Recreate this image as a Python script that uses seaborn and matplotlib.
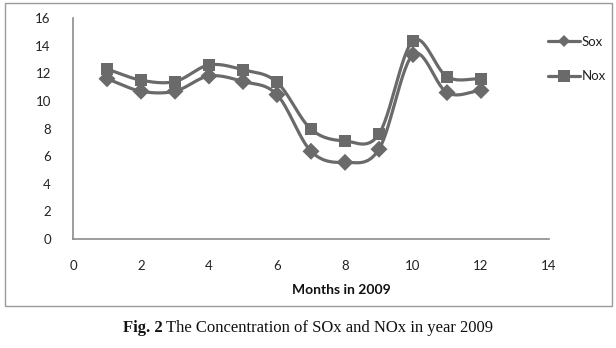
import numpy as np
import pandas as pd
import matplotlib
matplotlib.use("Agg")
import matplotlib.pyplot as plt
from matplotlib.lines import Line2D
from matplotlib.patches import Rectangle
import seaborn as sns

months = [1, 2, 3, 4, 5, 6, 7, 8, 9, 10, 11, 12]
sox = [11.6, 10.7, 10.7, 11.8, 11.4, 10.45, 6.35, 5.55, 6.5, 13.35, 10.6, 10.75]
nox = [12.3, 11.5, 11.4, 12.6, 12.25, 11.35, 7.95, 7.1, 7.6, 14.35, 11.75, 11.6]
series_names = ["Sox", "Nox"]
x_ticks = [0, 2, 4, 6, 8, 10, 12, 14]
y_ticks = [0, 2, 4, 6, 8, 10, 12, 14, 16]

sns.set_theme(style="white")
plt.rcParams["font.family"] = ["Lato", "DejaVu Sans"]

LINE = "#6a6a6a"

df = pd.DataFrame({
    "month": months * 2,
    "value": sox + nox,
    "series": [series_names[0]] * len(months) + [series_names[1]] * len(months),
})


def smooth(x, y, n=30):
    """Catmull-Rom style cubic Hermite curve through the points."""
    x = np.asarray(x, float)
    y = np.asarray(y, float)
    mx = np.gradient(x)
    my = np.gradient(y)
    mx[1:-1] = (x[2:] - x[:-2]) / 2
    my[1:-1] = (y[2:] - y[:-2]) / 2
    xs, ys = [], []
    t = np.linspace(0, 1, n)
    h00 = 2 * t**3 - 3 * t**2 + 1
    h10 = t**3 - 2 * t**2 + t
    h01 = -2 * t**3 + 3 * t**2
    h11 = t**3 - t**2
    for i in range(len(x) - 1):
        xs.append(h00 * x[i] + h10 * mx[i] + h01 * x[i + 1] + h11 * mx[i + 1])
        ys.append(h00 * y[i] + h10 * my[i] + h01 * y[i + 1] + h11 * my[i + 1])
    return np.concatenate(xs), np.concatenate(ys)


fig = plt.figure(figsize=(6.16, 3.48), dpi=100)
ax = fig.add_axes([73 / 616, 1 - 239 / 348, 476 / 616, 221 / 348])

curves = []
for name in series_names:
    sub = df[df["series"] == name]
    cx, cy = smooth(sub["month"].values, sub["value"].values)
    curves.append(pd.DataFrame({"month": cx, "value": cy, "series": name}))
curve_df = pd.concat(curves, ignore_index=True)

sns.lineplot(data=curve_df, x="month", y="value", units="series", estimator=None,
             sort=False, color=LINE, linewidth=2.3, ax=ax, legend=False)
sns.scatterplot(data=df, x="month", y="value", style="series",
                markers={"Sox": "D", "Nox": "s"}, style_order=series_names,
                color=LINE, s=75, linewidth=0, ax=ax, legend=False, zorder=3)

ax.set_xlim(0, 14)
ax.set_ylim(0, 16)
ax.set_xticks(x_ticks)
ax.set_yticks(y_ticks)
ax.set_xlabel("")
ax.set_ylabel("")
for side in ["top", "right"]:
    ax.spines[side].set_visible(False)
for side in ["left", "bottom"]:
    ax.spines[side].set_color("#8c8c8c")
    ax.spines[side].set_linewidth(1.2)
ax.tick_params(axis="both", length=0, labelsize=9.5, labelcolor="#222222")
ax.tick_params(axis="x", pad=15)
ax.tick_params(axis="y", pad=16)

fig.text(341 / 616, 1 - 290 / 348, "Months in 2009", ha="center", va="center",
         fontsize=10, fontweight="bold", color="#111111")

handles = [
    Line2D([], [], color=LINE, lw=2.3, marker="D", markersize=6, markeredgewidth=0),
    Line2D([], [], color=LINE, lw=2.3, marker="s", markersize=8, markeredgewidth=0),
]
fig.legend(handles, series_names, loc="upper left",
           bbox_to_anchor=(536 / 616, 1 - 24 / 348), frameon=False,
           handlelength=2.4, handletextpad=0.15, labelspacing=1.7,
           fontsize=9.5, labelcolor="#222222")

fig.patches.append(Rectangle((5 / 616, 1 - 306 / 348), 607 / 616, 303 / 348,
                             transform=fig.transFigure, fill=False,
                             edgecolor="#9a9a9a", linewidth=1.0))

# Caption: bold figure number followed by regular text, centred as one line
cap_kw = dict(fontsize=12, family="Liberation Serif", color="#111111", va="center")
cap_y = 1 - 328 / 348
renderer = fig.canvas.get_renderer()
t_bold = fig.text(0, cap_y, "Fig. 2 ", fontweight="bold", ha="left", **cap_kw)
t_rest = fig.text(0, cap_y, "The Concentration of SOx and NOx in year 2009", ha="left", **cap_kw)
w_bold = t_bold.get_window_extent(renderer).width / fig.bbox.width
w_rest = t_rest.get_window_extent(renderer).width / fig.bbox.width
x0 = 0.5 - (w_bold + w_rest) / 2
t_bold.set_x(x0)
t_rest.set_x(x0 + w_bold)

fig.savefig("out.png", dpi=100)
